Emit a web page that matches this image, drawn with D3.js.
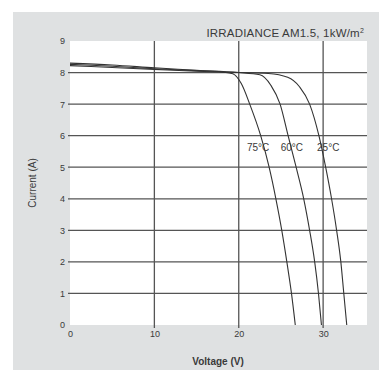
<!DOCTYPE html>
<html>
<head>
<meta charset="utf-8">
<script src="https://cdn.jsdelivr.net/npm/d3@7"></script>
<style>
body { margin: 0; background: #fff; }
text { font-family: "Liberation Sans", Arial, sans-serif; fill: #3a3a3a; }
</style>
</head>
<body>
<div id="chart"></div>
<script>
// svg params
var svgWidth = 379;
var svgHeight = 370;

// data: voltage (V), current (A)
var temps = ["75°C", "60°C", "25°C"];
var volts75 = [0, 5, 10, 15, 18, 19.3, 20.3, 21.3, 22.6, 23.6, 24.4, 25.1, 25.7, 26.25, 26.7];
var amps75 = [8.3, 8.24, 8.15, 8.07, 8.02, 7.96, 7.65, 7.0, 6.0, 5.0, 4.0, 3.0, 2.0, 1.0, 0];
var volts60 = [0, 5, 10, 15, 20, 22.5, 23.8, 24.9, 25.85, 26.8, 27.7, 28.4, 29.0, 29.45, 29.8];
var amps60 = [8.26, 8.2, 8.12, 8.06, 8.0, 7.93, 7.6, 7.0, 6.0, 5.0, 4.0, 3.0, 2.0, 1.0, 0];
var volts25 = [0, 5, 10, 15, 20, 23.5, 25.8, 27.2, 28.4, 29.5, 30.3, 31.0, 31.6, 32.1, 32.45, 32.8];
var amps25 = [8.22, 8.16, 8.1, 8.04, 8.0, 7.97, 7.85, 7.55, 7.0, 6.0, 5.0, 4.0, 3.0, 2.0, 1.0, 0];
var xTicks = [0, 10, 20, 30];
var yTicks = [0, 1, 2, 3, 4, 5, 6, 7, 8, 9];
var labelVolts = [22.3, 26.3, 30.6]; // where the temperature labels sit
var labelAmps = [5.5, 5.5, 5.5];

var series = [
  { name: temps[0], v: volts75, i: amps75 },
  { name: temps[1], v: volts60, i: amps60 },
  { name: temps[2], v: volts25, i: amps25 }
];

var plot = { left: 70, right: 367, top: 41, bottom: 325 };

var svg = d3.select("#chart").append("svg")
  .attr("width", svgWidth)
  .attr("height", svgHeight);

// grey panel
svg.append("rect")
  .attr("x", 13).attr("y", 12)
  .attr("width", svgWidth - 13).attr("height", svgHeight - 12)
  .attr("fill", "#dfe1e2");

var x = d3.scaleLinear().domain([0, 35.2]).range([plot.left, plot.right]);
var y = d3.scaleLinear().domain([0, 9]).range([plot.bottom, plot.top]);

// white plot area
svg.append("rect")
  .attr("x", plot.left).attr("y", plot.top)
  .attr("width", plot.right - plot.left).attr("height", plot.bottom - plot.top)
  .attr("fill", "#fff");

// horizontal grid
svg.append("g").selectAll("line")
  .data(yTicks.filter(d => d > 0 && d < 9))
  .enter().append("line")
  .attr("x1", plot.left - 2).attr("x2", plot.right)
  .attr("y1", d => y(d)).attr("y2", d => y(d))
  .attr("stroke", "#555").attr("stroke-width", 1.3);

// vertical grid
svg.append("g").selectAll("line")
  .data(xTicks.filter(d => d > 0))
  .enter().append("line")
  .attr("x1", d => x(d)).attr("x2", d => x(d))
  .attr("y1", plot.top).attr("y2", plot.bottom + 3)
  .attr("stroke", "#555").attr("stroke-width", 1.3);

// axes (labels only)
var bottomAxis = d3.axisBottom(x).tickValues(xTicks).tickSize(0).tickPadding(6);
var leftAxis = d3.axisLeft(y).tickValues(yTicks).tickSize(0).tickPadding(5);

var gx = svg.append("g").attr("transform", `translate(0, ${plot.bottom})`).call(bottomAxis);
var gy = svg.append("g").attr("transform", `translate(${plot.left}, 0)`).call(leftAxis);
[gx, gy].forEach(g => {
  g.select(".domain").remove();
  g.selectAll("text").attr("font-size", "9px").attr("fill", "#444")
    .style("font-family", "'Liberation Sans', Arial, sans-serif");
});

// curves
var line = d3.line()
  .x(d => x(d[0]))
  .y(d => y(d[1]))
  .curve(d3.curveMonotoneX);

svg.append("g").selectAll("path")
  .data(series)
  .enter().append("path")
  .attr("d", s => line(s.v.map((v, k) => [v, s.i[k]])))
  .attr("fill", "none")
  .attr("stroke", "#333")
  .attr("stroke-width", 1.1);

// temperature labels
svg.append("g").selectAll("text")
  .data(series)
  .enter().append("text")
  .attr("x", (s, k) => x(labelVolts[k]))
  .attr("y", (s, k) => y(labelAmps[k]))
  .attr("text-anchor", "middle")
  .attr("font-size", "10px")
  .text(s => s.name);

// title
svg.append("text")
  .attr("x", 364).attr("y", 37)
  .attr("text-anchor", "end")
  .attr("font-size", "11.5px")
  .attr("letter-spacing", "0.2px")
  .html("IRRADIANCE AM1.5, 1kW/m<tspan dy='-4' font-size='7px'>2</tspan>");

// axis titles
svg.append("text")
  .attr("x", 218).attr("y", 365)
  .attr("text-anchor", "middle")
  .attr("font-size", "10px")
  .attr("font-weight", "bold")
  .attr("fill", "#555")
  .text("Voltage (V)");

svg.append("text")
  .attr("transform", "rotate(-90)")
  .attr("x", -183).attr("y", 36)
  .attr("text-anchor", "middle")
  .attr("font-size", "10px")
  .attr("fill", "#555")
  .text("Current (A)");
</script>
</body>
</html>
